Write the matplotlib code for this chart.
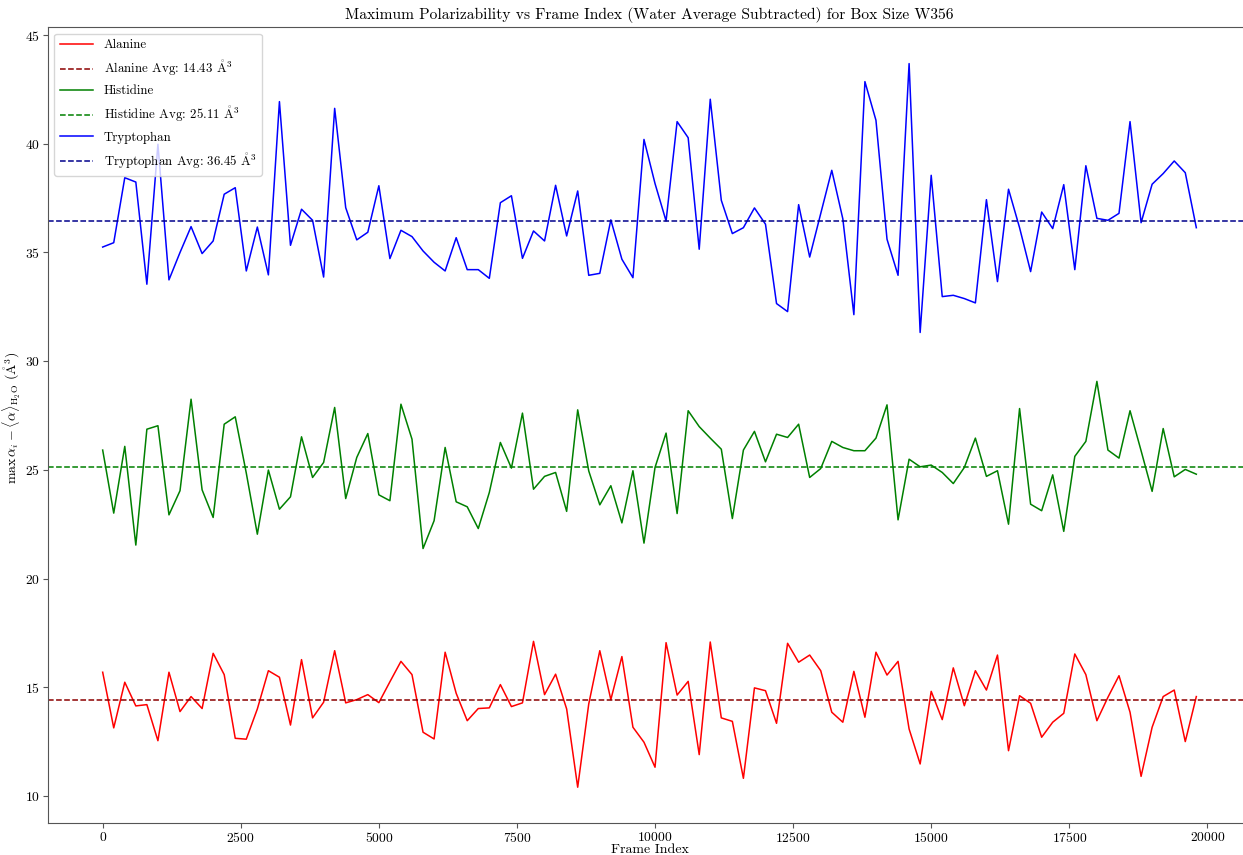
import numpy as np
import matplotlib
matplotlib.use("Agg")
import matplotlib.pyplot as plt

frame_step = 200
n_frames = 100

alanine = [15.69, 13.13, 15.23, 14.14, 14.20, 12.54, 15.69, 13.88, 14.57, 14.02,
           16.56, 15.58, 12.65, 12.61, 14.00, 15.76, 15.46, 13.26, 16.27, 13.59,
           14.31, 16.68, 14.28, 14.43, 14.66, 14.29, 15.25, 16.19, 15.58, 12.93,
           12.62, 16.61, 14.72, 13.46, 14.02, 14.05, 15.12, 14.11, 14.28, 17.11,
           14.66, 15.60, 14.00, 10.40, 14.23, 16.68, 14.43, 16.41, 13.16, 12.47,
           11.32, 17.05, 14.64, 15.27, 11.90, 17.08, 13.59, 13.43, 10.81, 14.97,
           14.84, 13.34, 17.02, 16.15, 16.48, 15.76, 13.85, 13.39, 15.73, 13.62,
           16.61, 15.56, 16.19, 13.08, 11.47, 14.81, 13.51, 15.89, 14.15, 15.76,
           14.87, 16.48, 12.08, 14.61, 14.26, 12.70, 13.39, 13.80, 16.53, 15.58,
           13.46, 14.54, 15.53, 13.85, 10.90, 13.16, 14.57, 14.87, 12.50, 14.57]

histidine = [25.91, 23.01, 26.08, 21.54, 26.87, 27.03, 22.93, 24.04, 28.25, 24.08,
             22.81, 27.10, 27.44, 24.85, 22.04, 24.99, 23.19, 23.76, 26.52, 24.65,
             25.34, 27.87, 23.68, 25.57, 26.67, 23.85, 23.58, 28.02, 26.41, 21.38,
             22.66, 26.03, 23.53, 23.30, 22.30, 23.96, 26.26, 25.08, 27.61, 24.11,
             24.70, 24.88, 23.09, 27.76, 24.95, 23.39, 24.27, 22.56, 24.96, 21.63,
             25.11, 26.69, 22.99, 27.72, 26.99, 26.46, 25.95, 22.76, 25.91, 26.77,
             25.37, 26.64, 26.49, 27.10, 24.65, 25.06, 26.31, 26.03, 25.88, 25.88,
             26.46, 27.99, 22.70, 25.49, 25.14, 25.22, 24.88, 24.37, 25.11, 26.46,
             24.70, 24.96, 22.50, 27.82, 23.42, 23.12, 24.77, 22.17, 25.62, 26.31,
             29.07, 25.91, 25.54, 27.72, 25.88, 24.01, 26.90, 24.68, 25.02, 24.80]

tryptophan = [35.25, 35.45, 38.44, 38.24, 33.54, 39.98, 33.74, 35.00, 36.19, 34.95,
              35.53, 37.68, 37.98, 34.15, 36.17, 33.97, 41.94, 35.33, 36.99, 36.48,
              33.87, 41.63, 37.06, 35.58, 35.93, 38.07, 34.72, 36.02, 35.73, 35.07,
              34.55, 34.15, 35.68, 34.21, 34.21, 33.81, 37.29, 37.61, 34.73, 35.99,
              35.53, 38.09, 35.76, 37.83, 33.95, 34.04, 36.50, 34.69, 33.84, 40.20,
              38.17, 36.45, 41.02, 40.28, 35.15, 42.05, 37.40, 35.87, 36.14, 37.05,
              36.30, 32.65, 32.28, 37.20, 34.79, 36.79, 38.78, 36.55, 32.14, 42.86,
              41.08, 35.61, 33.95, 43.69, 31.32, 38.55, 32.97, 33.03, 32.88, 32.68,
              37.43, 33.66, 37.91, 36.14, 34.12, 36.86, 36.10, 38.12, 34.21, 38.99,
              36.57, 36.48, 36.80, 41.02, 36.37, 38.14, 38.63, 39.21, 38.67, 36.14]

names = ["Alanine", "Histidine", "Tryptophan"]
averages = [14.43, 25.11, 36.45]
line_colors = ["red", "green", "blue"]
avg_colors = ["darkred", "green", "darkblue"]

frames = np.arange(n_frames) * frame_step

plt.rcParams['font.family'] = ['cmr10', 'DejaVu Serif']
plt.rcParams['mathtext.fontset'] = 'cm'
plt.rcParams['axes.formatter.use_mathtext'] = True
plt.rcParams['axes.unicode_minus'] = False

ANG = r"$\mathring{\mathrm{A}}^3$"

fig = plt.figure(figsize=(12.43, 8.55), dpi=100)
ax = fig.add_axes([48/1243, 1 - 823.4/855, (1251 - 48)/1243, (823.4 - 27.4)/855])

for name, vals, avg, lc, ac in zip(names, [alanine, histidine, tryptophan], averages, line_colors, avg_colors):
    ax.plot(frames, vals, color=lc, lw=1.1, label=name)
    ax.axhline(avg, color=ac, ls='--', lw=1.1, label=f"{name} Avg: {avg:.2f} " + ANG)

ax.set_title("Maximum Polarizability vs Frame Index (Water Average Subtracted) for Box Size W356",
             fontsize=11.2, pad=6)
ax.set_xlabel("Frame Index", fontsize=10)
ax.set_ylabel(r"$\max\,\alpha_i - \langle\alpha\rangle_{\mathrm{H_2O}}$ (" + ANG + ")", fontsize=10)
ax.xaxis.set_label_coords(0.5, -0.0255)
ax.yaxis.set_label_coords(-0.0205, 0.51)
ax.tick_params(labelsize=9.8, color='#555555', length=3.5, pad=2)
for s in ax.spines.values():
    s.set_color('#555555')
ax.set_xticks([0, 2500, 5000, 7500, 10000, 12500, 15000, 17500, 20000])
ax.legend(loc='upper left', fontsize=9.3, framealpha=0.8, edgecolor='#cccccc',
          handlelength=2.6, labelspacing=0.55)

fig.savefig("out.png", dpi=100)
